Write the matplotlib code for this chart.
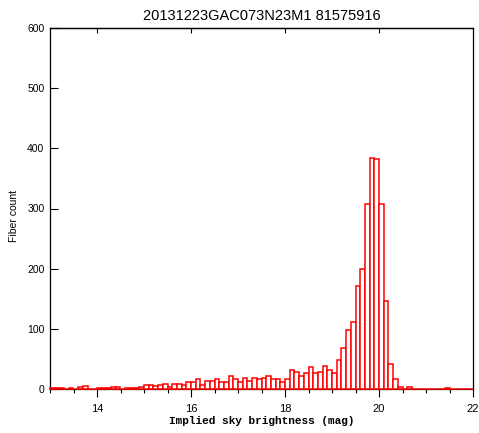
import numpy as np
import matplotlib
matplotlib.use("Agg")
import matplotlib.pyplot as plt

# histogram of implied sky brightness, 0.1 mag bins from 13.0 to 22.0
bin_width = 0.1
bin_lo = np.round(np.arange(13.0, 22.0, bin_width), 1)
counts = [
    1, 1, 1, 0, 2, 0, 3, 5, 0, 0,          # 13.0 - 14.0
    1, 1, 2, 4, 3, 0, 1, 1, 2, 3,          # 14.0 - 15.0
    7, 7, 5, 7, 9, 4, 9, 8, 6, 11,         # 15.0 - 16.0
    12, 17, 7, 14, 14, 17, 11, 12, 21, 16, # 16.0 - 17.0
    11, 18, 14, 18, 17, 18, 22, 17, 16, 12, # 17.0 - 18.0
    17, 31, 28, 22, 26, 37, 27, 29, 39, 32, # 18.0 - 19.0
    26, 49, 68, 98, 112, 171, 199, 307, 384, 382, # 19.0 - 20.0
    307, 147, 41, 16, 3, 0, 3, 0, 0, 0,    # 20.0 - 21.0
    0, 0, 0, 0, 1, 0, 0, 0, 0, 0,          # 21.0 - 22.0
]
title = "20131223GAC073N23M1 81575916"
xlabel = "Implied sky brightness (mag)"
ylabel = "Fiber count"

W, H = 479, 433
fig = plt.figure(figsize=(W / 100, H / 100), dpi=100)
ax = fig.add_axes([50 / W, 1 - 389 / H, 423 / W, 361 / H])

ax.bar(bin_lo, counts, width=bin_width, align="edge",
       facecolor="white", edgecolor="red", linewidth=1.1, clip_on=False, zorder=3)

ax.set_xlim(13, 22)
ax.set_ylim(0, 600)
ax.set_xticks(np.arange(14, 23, 2))
ax.set_xticks(np.arange(13, 22.01, 0.5), minor=True)
ax.set_yticks(np.arange(0, 601, 100))

for s in ax.spines.values():
    s.set_linewidth(0.9)
    s.set_color("black")

ax.tick_params(axis="x", which="major", direction="out", length=6, width=0.8,
               labelsize=8, pad=5, top=False)
ax.tick_params(axis="x", which="minor", direction="out", length=3, width=0.8, top=False)
ax.tick_params(axis="y", which="major", direction="in", length=6, width=0.8,
               labelsize=7.5, pad=4, right=False)
for lab in ax.get_xticklabels() + ax.get_yticklabels():
    lab.set_family("Liberation Sans")

top = ax.secondary_xaxis("top")
top.set_xticks([14, 16, 18, 20])
top.tick_params(direction="in", length=3.5, width=0.8, labeltop=False)
top.spines["top"].set_linewidth(0.9)

ax.set_title(title, family="Liberation Sans", fontsize=10.5, pad=6)
ax.set_xlabel(xlabel, family="Liberation Mono", fontweight="bold", fontsize=8, labelpad=1)
ax.set_ylabel(ylabel, family="Liberation Sans", fontsize=7.5)
ax.yaxis.set_label_coords(-0.074, 0.48)

fig.savefig("out.png", dpi=100)
